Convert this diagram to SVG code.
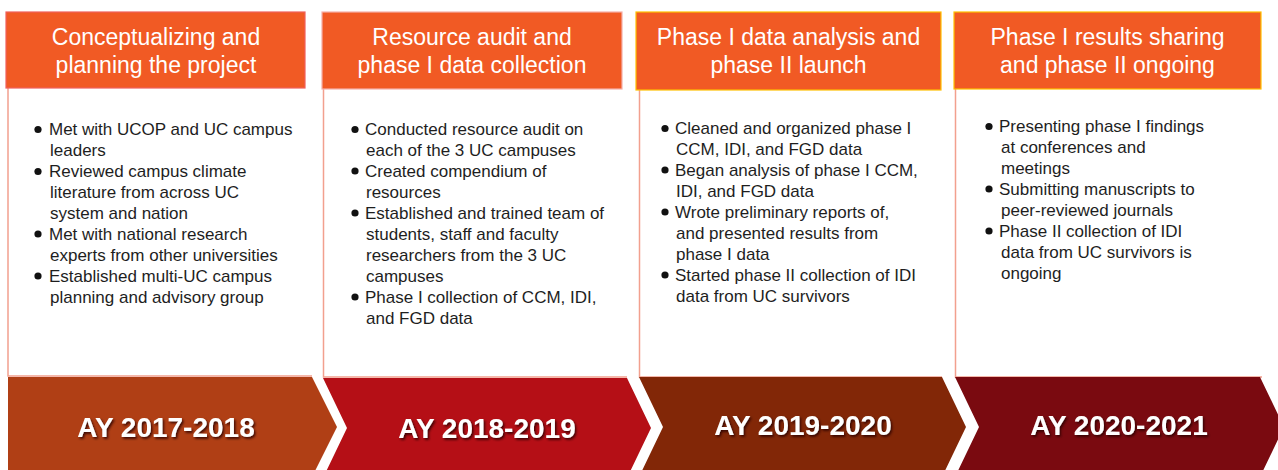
<svg xmlns="http://www.w3.org/2000/svg" width="1278" height="470" viewBox="0 0 1278 470">
<defs>
<style>
.hdr{fill:#F15A24;stroke-width:1.2}
.htxt{font-family:"Liberation Sans",Arial,sans-serif;font-size:23px;fill:#FFFFFF;text-anchor:middle}
.body{font-family:"Liberation Sans",Arial,sans-serif;font-size:17px;fill:#1E1E1E}
.panel{fill:none;stroke:#F2A08E;stroke-width:1.5}
.ay{font-family:"Liberation Sans",Arial,sans-serif;font-size:28px;font-weight:bold;fill:#FFFFFF;text-anchor:middle;filter:url(#sh)}
.dot{fill:#111111}
</style>
<filter id="sh" x="-10%" y="-30%" width="120%" height="160%">
<feDropShadow dx="1.5" dy="1.8" stdDeviation="0.8" flood-color="#2a0000" flood-opacity="0.85"/>
</filter>
</defs>
<rect width="1278" height="470" fill="#FFFFFF"/>

<g id="connectors">
<path class="panel" d="M8,88 V376 H312"/>
<path class="panel" d="M323.5,89 V377 H627"/>
<path class="panel" d="M639.5,90 V377 H942"/>
<path class="panel" d="M955.5,89 V377 H1262"/>
</g>

<g id="col1">
<rect class="hdr" x="6" y="12" width="299" height="76" stroke="#F0605C"/>
<text class="htxt" x="156" y="44.5">Conceptualizing and</text>
<text class="htxt" x="156" y="72.5">planning the project</text>
<g class="body">
<circle class="dot" cx="38" cy="129.5" r="3.6"/>
<text x="49" y="135">Met with UCOP and UC campus</text>
<text x="50" y="156">leaders</text>
<circle class="dot" cx="38" cy="171.5" r="3.6"/>
<text x="49" y="177">Reviewed campus climate</text>
<text x="50" y="198">literature from across UC</text>
<text x="50" y="219">system and nation</text>
<circle class="dot" cx="38" cy="234" r="3.6"/>
<text x="49" y="240">Met with national research</text>
<text x="50" y="261">experts from other universities</text>
<circle class="dot" cx="38" cy="276" r="3.6"/>
<text x="49" y="282">Established multi-UC campus</text>
<text x="50" y="303">planning and advisory group</text>
</g>
<polygon points="8,377 312,377 337,427 312,477 8,477" fill="#B03F15"/>
<text class="ay" x="166" y="437">AY 2017-2018</text>
</g>

<g id="col2">
<rect class="hdr" x="322" y="12" width="300" height="77" stroke="#F6B0A8"/>
<text class="htxt" x="472" y="44.5">Resource audit and</text>
<text class="htxt" x="472" y="72.5">phase I data collection</text>
<g class="body">
<circle class="dot" cx="355" cy="129.5" r="3.6"/>
<text x="365" y="135">Conducted resource audit on</text>
<text x="366" y="156">each of the 3 UC campuses</text>
<circle class="dot" cx="355" cy="171" r="3.6"/>
<text x="365" y="177">Created compendium of</text>
<text x="366" y="198">resources</text>
<circle class="dot" cx="355" cy="213" r="3.6"/>
<text x="365" y="219">Established and trained team of</text>
<text x="366" y="240">students, staff and faculty</text>
<text x="366" y="261">researchers from the 3 UC</text>
<text x="366" y="282">campuses</text>
<circle class="dot" cx="355" cy="297" r="3.6"/>
<text x="365" y="303">Phase I collection of CCM, IDI,</text>
<text x="366" y="324">and FGD data</text>
</g>
<polygon points="323,378 627,378 651,428 627,478 323,478 347,428" fill="#B50F16"/>
<text class="ay" x="487" y="438">AY 2018-2019</text>
</g>

<g id="col3">
<rect class="hdr" x="636" y="12" width="305" height="78" stroke="#FFC000"/>
<text class="htxt" x="788.5" y="44.5">Phase I data analysis and</text>
<text class="htxt" x="788.5" y="72.5">phase II launch</text>
<g class="body">
<circle class="dot" cx="665" cy="128.5" r="3.6"/>
<text x="675" y="134">Cleaned and organized phase I</text>
<text x="676" y="155">CCM, IDI, and FGD data</text>
<circle class="dot" cx="665" cy="170" r="3.6"/>
<text x="675" y="176">Began analysis of phase I CCM,</text>
<text x="676" y="197">IDI, and FGD data</text>
<circle class="dot" cx="665" cy="212" r="3.6"/>
<text x="675" y="218">Wrote preliminary reports of,</text>
<text x="676" y="239">and presented results from</text>
<text x="676" y="260">phase I data</text>
<circle class="dot" cx="665" cy="275" r="3.6"/>
<text x="675" y="281">Started phase II collection of IDI</text>
<text x="676" y="302">data from UC survivors</text>
</g>
<polygon points="639,377 942,377 966,427 942,477 639,477 663,427" fill="#822707"/>
<text class="ay" x="803" y="435">AY 2019-2020</text>
</g>

<g id="col4">
<rect class="hdr" x="954" y="12" width="307" height="77" stroke="#FFC000"/>
<text class="htxt" x="1107.5" y="44.5">Phase I results sharing</text>
<text class="htxt" x="1107.5" y="72.5">and phase II ongoing</text>
<g class="body">
<circle class="dot" cx="989" cy="126.5" r="3.6"/>
<text x="999" y="132">Presenting phase I findings</text>
<text x="1001" y="153">at conferences and</text>
<text x="1001" y="174">meetings</text>
<circle class="dot" cx="989" cy="189" r="3.6"/>
<text x="999" y="195">Submitting manuscripts to</text>
<text x="1001" y="216">peer-reviewed journals</text>
<circle class="dot" cx="989" cy="231" r="3.6"/>
<text x="999" y="237">Phase II collection of IDI</text>
<text x="1001" y="258">data from UC survivors is</text>
<text x="1001" y="279">ongoing</text>
</g>
<polygon points="955,377 1260,377 1284,427 1260,477 955,477 979,427" fill="#7A0A10"/>
<text class="ay" x="1119" y="435">AY 2020-2021</text>
</g>
</svg>
